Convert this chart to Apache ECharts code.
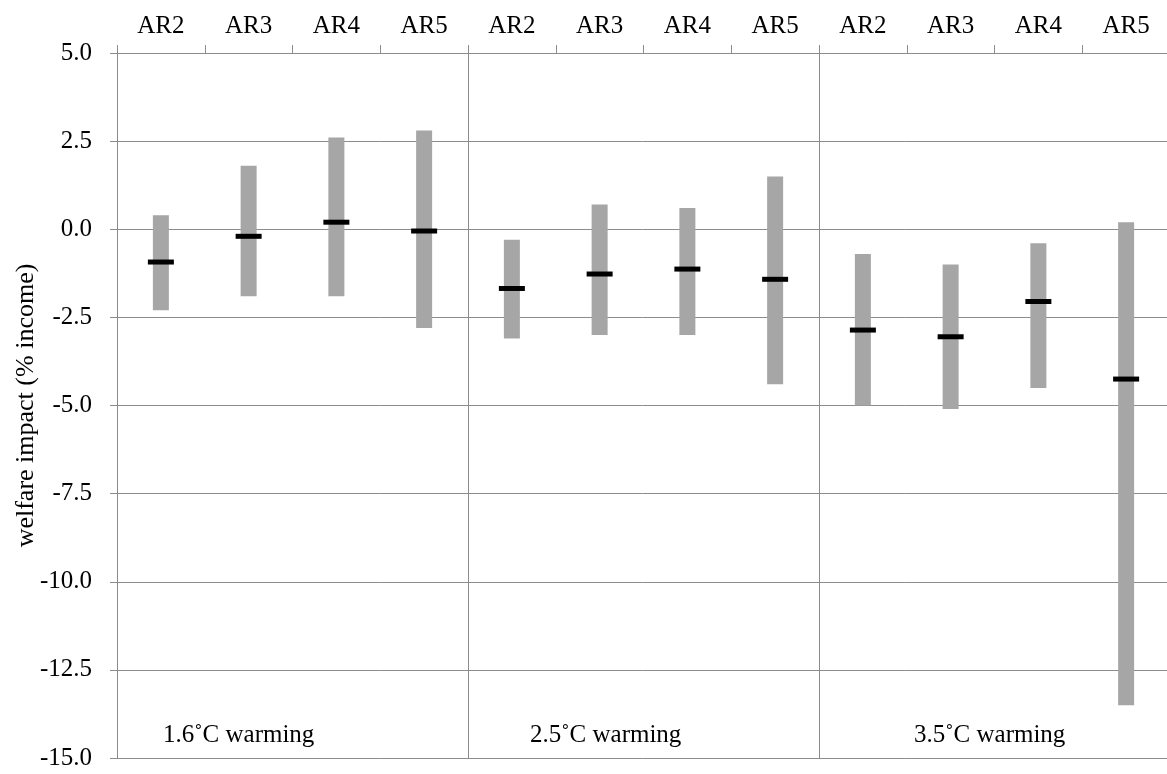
<!DOCTYPE html>
<html>
<head>
<meta charset="utf-8">
<script src="https://cdn.jsdelivr.net/npm/echarts@6/dist/echarts.min.js"></script>
<style>html,body{margin:0;padding:0;background:#fff;}#c{width:1167px;height:774px;}</style>
</head>
<body>
<div id="c"></div>
<script>
var categories = ['AR2','AR3','AR4','AR5','AR2','AR3','AR4','AR5','AR2','AR3','AR4','AR5'];
var groupLabels = ['1.6˚C warming','2.5˚C warming','3.5˚C warming'];
var lowValues = [-2.3,-1.9,-1.9,-2.8, -3.1,-3.0,-3.0,-4.4, -5.0,-5.1,-4.5,-13.5];
var highValues = [0.4,1.8,2.6,2.8, -0.3,0.7,0.6,1.5, -0.7,-1.0,-0.4,0.2];
var medianValues = [-0.93,-0.2,0.2,-0.05, -1.68,-1.27,-1.13,-1.42, -2.86,-3.05,-2.05,-4.25];
var yTicks = {min:-15, max:5, interval:2.5};

var FONT = 'Liberation Serif';
var FS = 25;
var data = categories.map(function(c,i){ return [i, lowValues[i], highValues[i], medianValues[i]]; });

var chart = echarts.init(document.getElementById('c'));
chart.setOption({
  animation:false,
  textStyle:{fontFamily:FONT},
  grid:{left:117, top:53, right:-3, bottom:16, containLabel:false, outerBoundsMode:'none'},
  xAxis:[{
    type:'category', position:'top', data:categories,
    axisLine:{show:true, onZero:false, lineStyle:{color:'#8c8c8c', width:1}},
    axisTick:{show:true, length:8, lineStyle:{color:'#8c8c8c'}},
    axisLabel:{color:'#000', fontSize:FS, fontFamily:FONT, margin:14},
    splitLine:{show:false}
  },{
    type:'value', min:0, max:12, interval:4, show:true, position:'bottom',
    axisLine:{show:false, onZero:false}, axisTick:{show:false}, axisLabel:{show:false},
    splitLine:{show:true, lineStyle:{color:'#8c8c8c', width:1}}
  }],
  yAxis:{
    type:'value', min:yTicks.min, max:yTicks.max, interval:yTicks.interval,
    name:'welfare impact (% income)', nameLocation:'middle', nameGap:78, nameMoveOverlap:false,
    nameTextStyle:{color:'#000', fontSize:26, fontFamily:FONT},
    axisLine:{show:true, onZero:false, lineStyle:{color:'#8c8c8c'}},
    axisTick:{show:true, length:7, lineStyle:{color:'#8c8c8c'}},
    axisLabel:{color:'#000', fontSize:FS, fontFamily:FONT, margin:25,
      formatter:function(v){return v.toFixed(1);}},
    splitLine:{show:true, lineStyle:{color:'#8c8c8c', width:1}}
  },
  series:[{
    type:'custom', xAxisIndex:0, yAxisIndex:0, data:data,
    encode:{x:0, y:[1,2,3]},
    renderItem:function(params, api){
      var x = api.value(0);
      var lo = api.coord([x, api.value(1)]);
      var hi = api.coord([x, api.value(2)]);
      var md = api.coord([x, api.value(3)]);
      var bw = 16, mw = 26, mh = 5;
      return {type:'group', children:[
        {type:'rect', shape:{x:lo[0]-bw/2, y:hi[1], width:bw, height:lo[1]-hi[1]}, style:{fill:'#a6a6a6'}},
        {type:'rect', shape:{x:md[0]-mw/2, y:md[1]-mh/2, width:mw, height:mh}, style:{fill:'#000'}}
      ]};
    }
  }],
  graphic:[
    {type:'text', left:163, top:723, style:{text:groupLabels[0], font:FS+'px "Liberation Serif"', fill:'#000'}},
    {type:'text', left:530, top:723, style:{text:groupLabels[1], font:FS+'px "Liberation Serif"', fill:'#000'}},
    {type:'text', left:914, top:723, style:{text:groupLabels[2], font:FS+'px "Liberation Serif"', fill:'#000'}}
  ]
});
</script>
</body>
</html>
